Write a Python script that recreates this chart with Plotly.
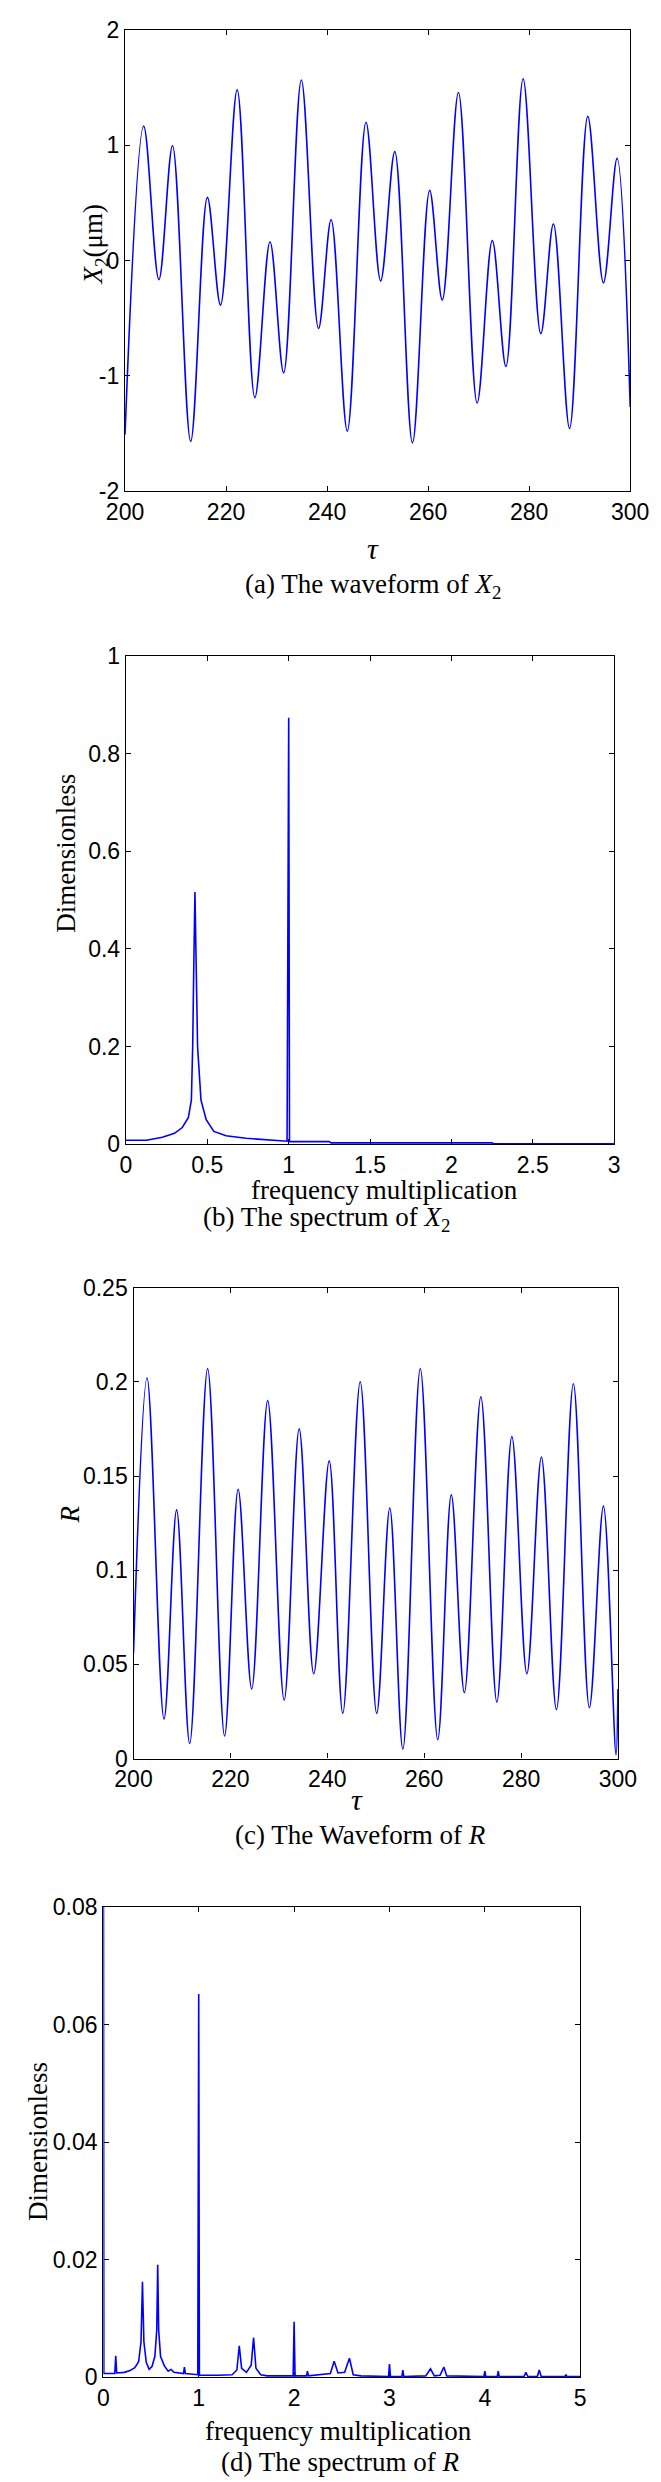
import plotly.graph_objects as go

# (a) waveform of X2 -- turning points
a_tau = [200.0, 203.7, 206.7, 209.4, 213.0, 216.3, 218.9, 222.2, 225.7, 228.7, 231.4,
         234.9, 238.3, 240.8, 244.0, 247.7, 250.6, 253.4, 256.9, 260.3, 262.8, 266.0,
         269.7, 272.7, 275.4, 278.8, 282.3, 284.8, 288.0, 291.6, 294.7, 297.4, 300.0]
a_x2 = [-1.51, 1.165, -0.166, 0.995, -1.569, 0.547, -0.387, 1.48, -1.19, 0.163, -0.975,
        1.565, -0.59, 0.353, -1.48, 1.199, -0.177, 0.944, -1.582, 0.608, -0.343, 1.457,
        -1.236, 0.173, -0.92, 1.576, -0.635, 0.316, -1.457, 1.25, -0.194, 0.886, -1.27]

# (b) spectrum of X2
b_freq = [0, 0.127, 0.224, 0.298, 0.346, 0.383, 0.402, 0.41, 0.418, 0.424, 0.43, 0.44,
          0.461, 0.493, 0.54, 0.615, 0.737, 0.859, 0.98, 0.99, 1.0, 1.005, 1.25, 1.26,
          2.25, 2.26, 3.0]
b_amp = [0.008, 0.008, 0.014, 0.022, 0.034, 0.054, 0.09, 0.2, 0.395, 0.517, 0.395, 0.2,
         0.09, 0.05, 0.026, 0.017, 0.012, 0.009, 0.006, 0.006, 0.874, 0.005, 0.005, 0.0025,
         0.0025, 0.0005, 0.0005]

# (c) waveform of R
c_tau = [200.0, 202.8, 206.3, 208.9, 211.6, 215.3, 218.8, 221.6, 224.4, 227.7, 231.1,
         234.2, 237.2, 240.4, 243.2, 246.8, 250.2, 252.9, 255.6, 259.2, 262.8, 265.6,
         268.3, 271.7, 275.0, 278.1, 281.2, 284.2, 287.3, 290.8, 294.1, 297.0, 299.6, 300.0]
c_r = [0.056, 0.202, 0.021, 0.132, 0.008, 0.207, 0.012, 0.143, 0.037, 0.19, 0.031,
       0.175, 0.045, 0.158, 0.024, 0.2, 0.024, 0.133, 0.005, 0.207, 0.010, 0.140,
       0.035, 0.192, 0.030, 0.171, 0.045, 0.160, 0.026, 0.199, 0.027, 0.134, 0.002, 0.037]

# (d) spectrum of R
d_freq = [0, 0.005, 0.12, 0.13, 0.14, 0.22, 0.28, 0.33, 0.37, 0.395, 0.41, 0.425, 0.45,
          0.48, 0.51, 0.54, 0.56, 0.57, 0.58, 0.6, 0.64, 0.68, 0.71, 0.74, 0.84, 0.85,
          0.86, 0.99, 1.0, 1.007, 1.2, 1.35, 1.4, 1.425, 1.45, 1.5, 1.55, 1.575, 1.6,
          1.65, 1.72, 1.99, 2.0, 2.01, 2.13, 2.14, 2.15, 2.38, 2.42, 2.46, 2.53, 2.58,
          2.62, 2.7, 2.99, 3.0, 3.01, 3.13, 3.14, 3.15, 3.38, 3.43, 3.47, 3.53, 3.57,
          3.6, 3.99, 4.0, 4.01, 4.13, 4.14, 4.15, 4.41, 4.43, 4.45, 4.55, 4.57, 4.59,
          4.84, 4.85, 4.86, 5.0]
d_amp = [0.11, 0.0006, 0.0006, 0.0036, 0.0007, 0.0008, 0.0011, 0.0016, 0.0026, 0.006,
         0.0162, 0.006, 0.0025, 0.0013, 0.0018, 0.0035, 0.008, 0.0191, 0.008, 0.0035,
         0.0019, 0.001, 0.0013, 0.0008, 0.0006, 0.0017, 0.0006, 0.0004, 0.0652, 0.0003,
         0.0003, 0.0004, 0.0012, 0.0053, 0.0015, 0.0008, 0.002, 0.0067, 0.0015, 0.0004,
         0.0002, 0.0002, 0.0094, 0.0002, 0.0002, 0.001, 0.0002, 0.0006, 0.0027, 0.0007,
         0.0008, 0.0032, 0.0004, 0.0002, 0.0001, 0.0022, 0.0001, 0.0001, 0.0012, 0.0001,
         0.0002, 0.0014, 0.0002, 0.0003, 0.0017, 0.0002, 0.0001, 0.001, 0.0001, 0.0001,
         0.001, 0.0001, 0.0001, 0.0008, 0.0001, 0.0001, 0.0012, 0.0001, 0.0001, 0.0004,
         0.0001, 0.0001]

W, H = 661, 2482
BLUE = "#0000ff"
SERIF = "Liberation Serif"
SANS = "Liberation Sans"


def px_x(p):
    return p / W


def px_y(p):
    return 1 - p / H


fig = go.Figure()
fig.add_trace(go.Scatter(x=a_tau, y=a_x2, mode="lines", line=dict(color=BLUE, width=1.6, shape="spline"),
                         xaxis="x", yaxis="y"))
fig.add_trace(go.Scatter(x=b_freq, y=b_amp, mode="lines", line=dict(color=BLUE, width=1.6),
                         xaxis="x2", yaxis="y2"))
fig.add_trace(go.Scatter(x=c_tau, y=c_r, mode="lines", line=dict(color=BLUE, width=1.6, shape="spline"),
                         xaxis="x3", yaxis="y3"))
fig.add_trace(go.Scatter(x=d_freq, y=d_amp, mode="lines", line=dict(color=BLUE, width=1.6),
                         xaxis="x4", yaxis="y4"))

axis_style = dict(showline=True, linecolor="black", linewidth=1.4, mirror="allticks",
                  ticks="inside", ticklen=5, tickcolor="black", showgrid=False,
                  zeroline=False, layer="below traces",
                  tickfont=dict(family=SANS, size=23, color="black"))

# panel boxes in pixels: left, right, top, bottom
boxes = [(104, 640, 9, 475), (105, 623, 642, 1135), (113, 627, 1280, 1756), (81, 587, 1906, 2381)]
xranges = [[200, 300], [0, 3], [200, 300], [0, 5]]
yranges = [[-2, 2], [0, 1], [0, 0.25], [0, 0.08]]
xticks = [[200, 220, 240, 260, 280, 300], [0, 0.5, 1, 1.5, 2, 2.5, 3],
          [200, 220, 240, 260, 280, 300], [0, 1, 2, 3, 4, 5]]
yticks = [[-2, -1, 0, 1, 2], [0, 0.2, 0.4, 0.6, 0.8, 1],
          [0, 0.05, 0.1, 0.15, 0.2, 0.25], [0, 0.02, 0.04, 0.06, 0.08]]

layout = dict(width=W, height=H, margin=dict(l=0, r=0, t=0, b=0),
              paper_bgcolor="white", plot_bgcolor="white", showlegend=False)
for i, (l, r, t, b) in enumerate(boxes):
    s = "" if i == 0 else str(i + 1)
    layout["xaxis" + s] = dict(axis_style, domain=[px_x(l), px_x(r)], range=xranges[i],
                               tickvals=xticks[i], ticktext=[f"{v:g}" for v in xticks[i]],
                               anchor="y" + s)
    layout["yaxis" + s] = dict(axis_style, domain=[px_y(b), px_y(t)], range=yranges[i],
                               tickvals=yticks[i], ticktext=[f"{v:g}" for v in yticks[i]],
                               anchor="x" + s)
fig.update_layout(**layout)


def label(text, x, y, angle=0, size=27):
    fig.add_annotation(text=text, x=px_x(x), y=px_y(y), xref="paper", yref="paper",
                       showarrow=False, textangle=angle, xanchor="center", yanchor="middle",
                       font=dict(family=SERIF, size=size, color="black"))


label("<i>X</i><sub>2</sub>(μm)", 72, 226, angle=-90)
label("<i>τ</i>", 367, 533, size=30)
label("(a) The waveform of <i>X</i><sub>2</sub>", 367, 571)

label("Dimensionless", 42, 841, angle=-90)
label("frequency multiplication", 379, 1181)
label("(b) The spectrum of <i>X</i><sub>2</sub>", 318, 1211)

label("<i>R</i>", 46, 1509, angle=-90)
label("<i>τ</i>", 350, 1797, size=30)
label("(c) The Waveform of <i>R</i>", 354, 1833)

label("Dimensionless", 11, 2143, angle=-90)
label("frequency multiplication", 331, 2436)
label("(d) The spectrum of <i>R</i>", 332, 2467)

fig.write_html("out.html")
